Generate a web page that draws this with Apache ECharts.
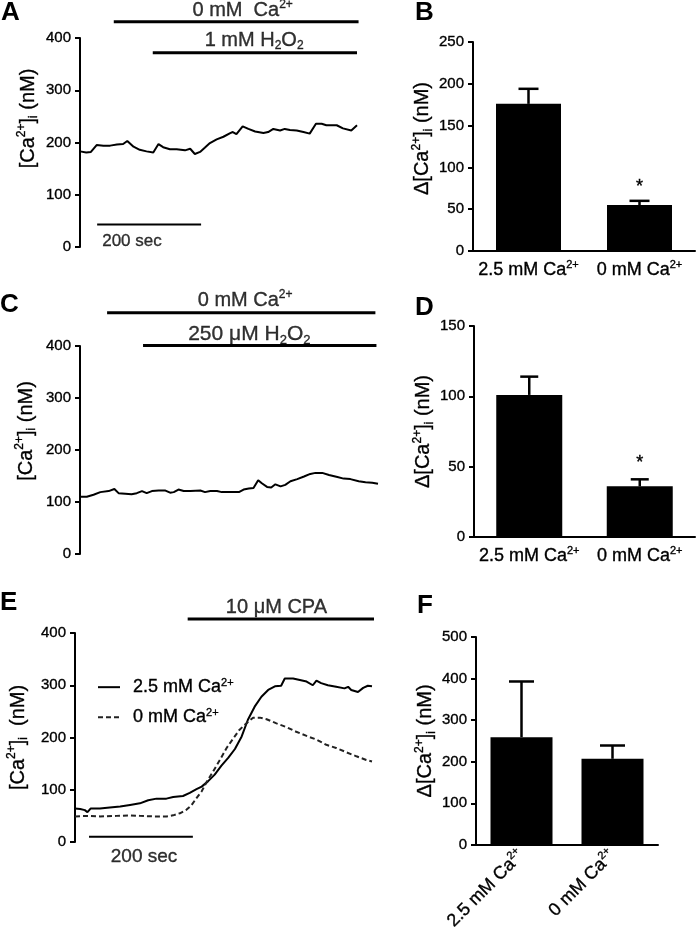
<!DOCTYPE html>
<html><head><meta charset="utf-8">
<script src="https://cdn.jsdelivr.net/npm/echarts@6/dist/echarts.min.js"></script>
<style>html,body{margin:0;padding:0;background:#fff}#c{width:700px;height:934px}</style>
</head><body><div id="c"></div>
<script>
// ---------- DATA ----------
// Panel A: 0 mM Ca2+ then 1 mM H2O2 (time in s, [Ca2+]i in nM)
const timeA = [0,12,21,32,45,58,71,83,91,103,115,128,141,151,160,173,186,202,212,221,231,240,250,263,276,289,294,301,313,324,337,353,362,372,385,394,404,417,430,442,454,465,474,494,506,522,533];
const caA = [183,181,182,195,194,194,196,197,203,192,186,183,181,197,191,187,187,185,188,178,182,190,199,206,211,218,220,216,231,226,221,218,220,226,223,226,224,223,220,217,236,236,233,233,227,223,233];
const periodLabelsA = ['0 mM  Ca{sup|2+}', '1 mM H{sub|2}O{sub|2}'];
const periodStartA = [65, 140];
const periodEndA = [536, 533];

// Panel C: 0 mM Ca2+ then 250 uM H2O2
const timeC = [0,13,26,39,55,66,74,87,99,109,119,128,138,151,164,173,180,189,199,212,231,240,250,263,272,289,305,314,324,333,342,349,359,367,375,385,394,404,417,430,442,452,465,478,494,506,519,535,548,561,572];
const caC = [110,110,114,119,121,125,117,116,115,117,121,117,121,122,122,118,119,124,121,121,122,119,121,121,119,119,119,124,126,127,142,136,129,128,134,130,133,140,144,149,154,156,156,152,148,145,144,140,138,137,135];
const periodLabelsC = ['0 mM Ca{sup|2+}', '250 μM H{sub|2}O{sub|2}'];
const periodStartC = [52, 121];
const periodEndC = [567, 569];

// Panel E: 10 uM CPA in 2.5 mM vs 0 mM Ca2+
const timeE1 = [0,10,19,24,30,48,67,87,106,125,141,157,176,189,208,221,234,244,256,269,282,295,308,321,333,346,359,372,385,397,404,420,433,446,458,465,474,487,503,519,526,532,545,555,564,572];
const caE1 = [64,63,61,57,64,64,66,68,71,74,80,83,83,86,88,94,101,106,116,129,146,161,178,202,234,259,278,291,298,299,313,313,310,307,300,309,304,300,297,294,297,291,287,295,299,298];
const timeE0 = [0,22,48,80,106,125,151,176,189,202,215,224,234,244,253,266,279,292,304,317,330,343,356,369,388,407,426,446,465,484,503,522,542,561,572];
const caE0 = [49,50,49,50,51,50,49,49,51,55,62,70,84,97,114,135,157,180,197,215,227,238,238,235,227,220,211,203,196,186,180,172,164,157,154];
const seriesNamesE = ['2.5 mM Ca2+', '0 mM Ca2+'];
const periodLabelsE = ['10 μM CPA'];
const periodStartE = [217];
const periodEndE = [596];
const scaleBarSec = 200;

// Bar panels: mean and SEM of Δ[Ca2+]i (nM)
const catBars = ['2.5 mM Ca2+', '0 mM Ca2+'];
const meanB = [176, 55], semB = [18, 5], sigB = [0, 1];
const meanD = [101, 36], semD = [13, 5], sigD = [0, 1];
const meanF = [259, 207], semF = [134, 32], sigF = [0, 0];

// ---------- STYLE / LAYOUT ----------
const FONT = 'Liberation Sans';
const BLACK = '#000';
const TB = {textBorderColor: '#000', textBorderWidth: 0.35};
function richFor(size) {
  const s = Math.round(size * 0.62);
  return {
    sup: Object.assign({fontSize: s, lineHeight: s + 1, verticalAlign: 'top', fontFamily: FONT, color: BLACK}, TB),
    sub: Object.assign({fontSize: s, lineHeight: s, verticalAlign: 'bottom', fontFamily: FONT, color: BLACK}, TB)
  };
}
const fmtCa = s => s.replace('Ca2+', 'Ca{sup|2+}');
const zip = (a, b) => a.map((v, i) => [v, b[i]]);

const grids = [
  {left: 80, top: 38, width: 277, height: 209},
  {left: 473, top: 42, width: 222, height: 209},
  {left: 80, top: 346, width: 298, height: 208},
  {left: 474, top: 326, width: 221, height: 211},
  {left: 75, top: 633, width: 297, height: 209},
  {left: 476, top: 637, width: 182, height: 209}
];

function yAx(gi, max, interval, name, nameGap, shift, nameSize) {
  return {
    type: 'value', gridIndex: gi, min: 0, max, interval,
    axisLine: {show: true, lineStyle: {color: BLACK, width: 2}},
    axisTick: {show: true, length: 5, lineStyle: {color: BLACK, width: 2}},
    axisLabel: Object.assign({color: BLACK, fontSize: 15, fontFamily: FONT, margin: 9}, TB),
    splitLine: {show: false},
    name, nameLocation: 'middle', nameGap, nameRotate: 90,
    nameTextStyle: Object.assign({color: BLACK, fontSize: nameSize, fontFamily: FONT, lineHeight: nameSize + 4,
      padding: [0, 0, 0, shift * 2], rich: richFor(nameSize)}, TB)
  };
}
function xTime(gi, max) {
  return {type: 'value', gridIndex: gi, min: 0, max, show: false};
}
function xCat(gi, rotate) {
  return {
    type: 'category', gridIndex: gi, data: catBars,
    axisLine: {show: true, lineStyle: {color: BLACK, width: 2}},
    axisTick: {show: false},
    axisLabel: Object.assign({color: BLACK, fontSize: 18, fontFamily: FONT, margin: 8, rotate: rotate || 0,
      interval: 0, formatter: fmtCa, rich: richFor(18), lineHeight: 22}, TB)
  };
}

function hBar(gi, t0, t1, level, width) {
  return {type: 'line', xAxisIndex: gi, yAxisIndex: gi, data: [[t0, level], [t1, level]],
    symbol: 'none', clip: false, silent: true, lineStyle: {color: BLACK, width}};
}
function textAt(gi, t, level, text, size) {
  return {type: 'scatter', xAxisIndex: gi, yAxisIndex: gi, data: [[t, level]], symbolSize: 1,
    clip: false, silent: true, itemStyle: {color: 'rgba(0,0,0,0)'},
    label: Object.assign({show: true, position: 'inside', formatter: text, color: BLACK, fontSize: size,
      fontFamily: FONT, lineHeight: size + 4, rich: richFor(size)}, TB)};
}
function traceSeries(gi, t, v, name, dashed) {
  return {type: 'line', name, xAxisIndex: gi, yAxisIndex: gi, data: zip(t, v), symbol: 'none',
    silent: true, itemStyle: {color: BLACK},
    lineStyle: {color: dashed ? '#222' : BLACK, width: 2, type: dashed ? [5, 3] : 'solid'}};
}
function barSeries(gi, means, bw) {
  return {type: 'bar', xAxisIndex: gi, yAxisIndex: gi, data: means, barWidth: bw, silent: true,
    itemStyle: {color: BLACK}};
}
function errSeries(gi, means, sems, sigs, half, starGap) {
  return {
    type: 'custom', xAxisIndex: gi, yAxisIndex: gi, silent: true, z: 5,
    data: means.map((m, i) => [i, m, sems[i], sigs[i]]),
    renderItem: function (params, api) {
      const i = api.value(0), m = api.value(1), s = api.value(2), sig = api.value(3);
      const b = api.coord([i, m]);
      const t = api.coord([i, m + s]);
      const st = {stroke: BLACK, lineWidth: 2.5};
      const ch = [
        {type: 'line', shape: {x1: b[0], y1: b[1], x2: t[0], y2: t[1]}, style: st},
        {type: 'line', shape: {x1: t[0] - half, y1: t[1], x2: t[0] + half, y2: t[1]}, style: st}
      ];
      if (sig) ch.push({type: 'text', x: t[0], y: t[1] - starGap,
        style: {text: '*', fill: BLACK, font: '18px ' + FONT, align: 'center', verticalAlign: 'middle',
          stroke: BLACK, lineWidth: 0.4}});
      return {type: 'group', children: ch};
    }
  };
}

const tMaxA = 533, tMaxC = 572, tMaxE = 572;
const titleName = '[Ca{sup|2+}]{sub|i} (nM)';
const deltaName = 'Δ[Ca{sup|2+}]{sub|i} (nM)';

const letters = [['A', 1, 0], ['B', 415, 0], ['C', 0, 292], ['D', 415, 295], ['E', 0, 590], ['F', 417, 593]];

const option = {
  animation: false,
  backgroundColor: '#fff',
  title: letters.map(l => ({text: l[0], left: l[1], top: l[2], padding: 0,
    textStyle: {fontSize: 26, fontWeight: 'bold', fontFamily: FONT, color: BLACK}})),
  grid: grids,
  legend: {
    data: seriesNamesE, left: 92, top: 672, orient: 'vertical', itemWidth: 22, itemHeight: 10, itemGap: 10,
    formatter: fmtCa, itemStyle: {opacity: 0},
    textStyle: Object.assign({fontSize: 18, fontFamily: FONT, color: BLACK, lineHeight: 20,
      padding: [0, 0, 0, 8], rich: richFor(18)}, TB)
  },
  xAxis: [xTime(0, tMaxA), xCat(1), xTime(2, tMaxC), xCat(3), xTime(4, tMaxE), xCat(5, 45)],
  yAxis: [
    yAx(0, 400, 100, titleName, 40, 24, 20),
    yAx(1, 250, 50, deltaName, 37, 8, 20),
    yAx(2, 400, 100, titleName, 42, 19, 20),
    yAx(3, 150, 50, deltaName, 34, 0, 20),
    yAx(4, 400, 100, '[Ca{sup|2+}]{sub|i}  (nM)', 45, 0, 20),
    yAx(5, 500, 100, deltaName, 38, 0, 20)
  ],
  series: [
    // A
    traceSeries(0, timeA, caA, 'A'),
    hBar(0, periodStartA[0], periodEndA[0], 431, 3),
    hBar(0, periodStartA[1], periodEndA[1], 372, 3),
    textAt(0, 313, 452, periodLabelsA[0], 20),
    textAt(0, 335, 396, periodLabelsA[1], 20),
    hBar(0, 33, 33 + scaleBarSec, 43, 2),
    textAt(0, 100, 11, scaleBarSec + ' sec', 17),
    // B
    barSeries(1, meanB, 65),
    errSeries(1, meanB, semB, sigB, 10, 14),
    // C
    traceSeries(2, timeC, caC, 'C'),
    hBar(2, periodStartC[0], periodEndC[0], 464, 3),
    hBar(2, periodStartC[1], periodEndC[1], 401, 3),
    textAt(2, 317, 488, periodLabelsC[0], 20),
    textAt(2, 325, 423, periodLabelsC[1], 21),
    // D
    barSeries(3, meanD, 66),
    errSeries(3, meanD, semD, sigD, 9, 16),
    // E
    traceSeries(4, timeE1, caE1, seriesNamesE[0], false),
    traceSeries(4, timeE0, caE0, seriesNamesE[1], true),
    hBar(4, periodStartE[0], periodEndE[0], 427, 3),
    textAt(4, 388, 448, periodLabelsE[0], 20),
    hBar(4, 27, 27 + scaleBarSec, 10, 2),
    textAt(4, 133, -28, scaleBarSec + ' sec', 19),
    // F
    barSeries(5, meanF, 62),
    errSeries(5, meanF, semF, sigF, 12.5, 14)
  ]
};
const chart = echarts.init(document.getElementById('c'));
chart.setOption(option);
</script></body></html>
